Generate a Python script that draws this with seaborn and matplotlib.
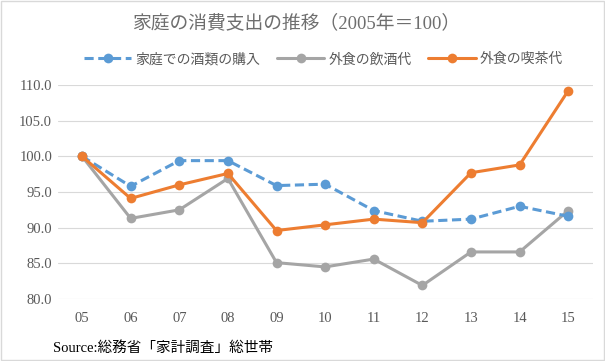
import numpy as np
import pandas as pd
import seaborn as sns
from matplotlib import pyplot as plt
from matplotlib.patches import Rectangle

years = ['05', '06', '07', '08', '09', '10', '11', '12', '13', '14', '15']
home_liquor = [100.0, 95.8, 99.4, 99.4, 95.9, 96.1, 92.4, 90.9, 91.2, 93.0, 91.6]
eatout_drink = [100.0, 91.3, 92.5, 96.9, 85.1, 84.5, 85.6, 81.9, 86.6, 86.6, 92.4]
eatout_cafe = [100.0, 94.1, 96.0, 97.6, 89.6, 90.4, 91.2, 90.7, 97.7, 98.8, 109.2]
series_names = ['家庭での酒類の購入', '外食の飲酒代', '外食の喫茶代']
y_ticks = [80, 85, 90, 95, 100, 105, 110]

sns.set_style("white")
plt.rcParams['font.family'] = ['Liberation Serif', 'Noto Sans CJK JP', 'DejaVu Sans']

rows = []
for name, vals in zip(series_names, [home_liquor, eatout_drink, eatout_cafe]):
    for i, v in enumerate(vals):
        rows.append({'idx': i, 'value': v, 'series': name})
df = pd.DataFrame(rows)

palette = {series_names[0]: '#5B9BD5', series_names[1]: '#A5A5A5', series_names[2]: '#ED7D31'}
dashes = {series_names[0]: (3, 1.5), series_names[1]: '', series_names[2]: ''}

fig = plt.figure(figsize=(6.05, 3.61), dpi=100)
ax = fig.add_axes([0.0954, 0.1717, 0.884, 0.5928])

# draw gray first, then blue, then orange on top (as in the reference)
for name in [series_names[1], series_names[0], series_names[2]]:
    sub = df[df['series'] == name]
    sns.lineplot(data=sub, x='idx', y='value', ax=ax, color=palette[name],
                 linewidth=2.2, marker='o', markersize=7, markeredgewidth=0,
                 dashes=dashes[name] if dashes[name] else (None, None),
                 label=name, legend=False)

ax.set_xlim(-0.5, len(years) - 0.5)
ax.set_ylim(80, 110)
ax.set_yticks(y_ticks)
ax.set_yticklabels([f'{t:.1f}' for t in y_ticks])
ax.set_xticks(range(len(years)))
ax.set_xticklabels(years)
ax.tick_params(axis='both', length=0, labelsize=10.5, colors='#595959')
ax.tick_params(axis='x', pad=9)
ax.tick_params(axis='y', pad=4)
ax.grid(axis='y', color='#D9D9D9', linewidth=0.8)
ax.set_axisbelow(True)
for s in ax.spines.values():
    s.set_visible(False)
ax.set_xlabel('')
ax.set_ylabel('')

handles, labels = ax.get_legend_handles_labels()
order = [labels.index(n) for n in series_names]
fig.legend([handles[i] for i in order], [labels[i] for i in order],
           loc='center', bbox_to_anchor=(0.535, 0.835), ncol=3, frameon=False,
           fontsize=10, labelcolor='#595959', handlelength=3.4,
           columnspacing=1.2, handletextpad=0.3)

fig.text(0.49, 0.935, '家庭の消費支出の推移（2005年＝100）', ha='center', va='center',
         fontsize=13.5, color='#6E6E6E')
fig.text(0.088, 0.035, 'Source:総務省「家計調査」総世帯', ha='left', va='center',
         fontsize=10.5, color='black')

fig.patches.append(Rectangle((0.002, 0.003), 0.996, 0.994, transform=fig.transFigure,
                             fill=False, edgecolor='#D9D9D9', linewidth=1))

fig.savefig('out.png', dpi=100)
